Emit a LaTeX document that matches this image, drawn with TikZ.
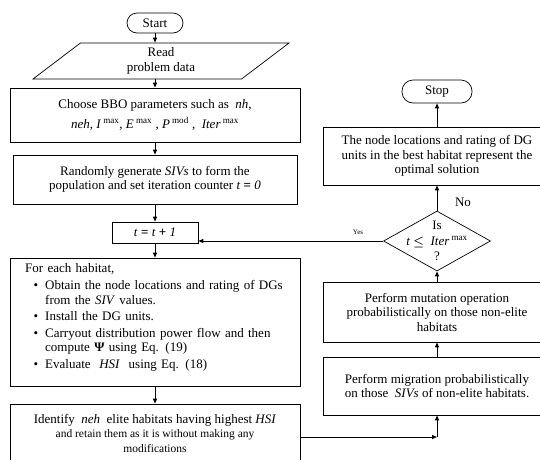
\documentclass[tikz,border=0pt]{standalone}
\usepackage{amsmath}
\usepackage{fontspec}
\setmainfont{Liberation Serif}
\usepackage{enumitem}
\usetikzlibrary{arrows.meta,shapes.geometric}

\begin{document}
\begin{tikzpicture}[x=1pt,y=-1pt,
  >={Triangle[length=5pt,width=4pt]},
  every node/.style={font=\fontsize{13}{14.5}\selectfont},
  box/.style={draw,line width=0.7pt,align=center,inner sep=0pt},
  term/.style={draw,line width=0.7pt,rounded corners=10pt,align=center,inner sep=0pt},
  flow/.style={->,line width=1pt}]
\useasboundingbox (0,0) rectangle (540,459);
\node[term,minimum width=56,minimum height=20] (start) at (155,23) {Start};
\node[draw,line width=0.7pt,trapezium,trapezium left angle=29,trapezium right angle=151,trapezium stretches body,minimum width=256,minimum height=36,align=center,inner sep=0pt] (read) at (161,61) {Read\\problem data};
\node[box,minimum width=290,minimum height=54] (bbo) at (155,115) {Choose BBO parameters such as \ \textit{nh},\\[5pt] \textit{neh}, \textit{I}\,\textsuperscript{max}, \textit{E}\,\textsuperscript{max} , \textit{P}\,\textsuperscript{mod} , \ \textit{Iter}\,\textsuperscript{max}};
\node[box,minimum width=284,minimum height=49] (rand) at (155,179.5) {Randomly generate \textit{SIVs} to form the\\population and set iteration counter \textit{t} \textbf{=} \textit{0}};
\node[box,minimum width=86,minimum height=21] (tcount) at (155,232.5) {\textit{t} \textbf{=} \textit{t} \textbf{+} \textit{1}};
\node[box,minimum width=290,minimum height=128] (each) at (155,322) {};
\node[anchor=north west,text width=272,align=left,inner sep=0pt] (eachtext) at (25,263) {\noindent For each habitat,
\begin{itemize}[leftmargin=20pt,labelsep=7pt,topsep=3pt,itemsep=2pt,parsep=0pt,partopsep=0pt]
\item Obtain the node locations and rating of DGs\newline from the \textit{SIV} values.
\item Install the DG units.
\item Carryout distribution power flow and then\newline compute \textbf{Ψ} using Eq. (19)
\item Evaluate \ \textit{HSI} \ using Eq. (18)
\end{itemize}};
\node[box,minimum width=290,minimum height=58] (ident) at (155,433) {Identify \ \textit{neh} \ elite habitats having highest \textit{HSI}\\{\fontsize{11.5}{13}\selectfont and retain them as it is without making any}\\{\fontsize{11.5}{13}\selectfont modifications}};

\node[term,minimum width=70,minimum height=23,rounded corners=11pt] (stop) at (437,91.5) {Stop};
\node[box,minimum width=228,minimum height=58] (opt) at (437,156) {The node locations and rating of DG\\units in the best habitat represent the\\optimal solution};
\node[draw,line width=0.7pt,diamond,minimum width=107,minimum height=60,inner sep=0pt] (dec) at (437,241) {};
\node[align=center,inner sep=0pt] (dectext) at (437,241) {Is\\[1pt] \textit{t} $\boldsymbol{\leq}$ \ \textit{Iter}\,\textsuperscript{max}\\[1pt] ?};
\node[box,minimum width=228,minimum height=60] (mut) at (437,312) {Perform mutation operation\\probabilistically on those non-elite\\habitats};
\node[box,minimum width=228,minimum height=58] (migr) at (437,386) {Perform migration probabilistically\\on those \ \textit{SIVs} of non-elite habitats.};
\coordinate (join) at (437,437);
\node[font=\fontsize{7}{8}\selectfont] (yes) at (358,232) {Yes};
\node (no) at (463,202) {No};

\draw[flow] (start.south) -- (start.south |- read.north);
\draw[flow] (bbo.north |- read.south) -- (bbo.north);
\draw[flow] (bbo) -- (rand);
\draw[flow] (rand) -- (tcount);
\draw[flow] (tcount) -- (each);
\draw[flow] (each) -- (ident);
\draw[flow] (ident.east |- join) -- (join);
\draw[flow] (join) -- (migr);
\draw[flow] (migr) -- (mut);
\draw[flow] (mut) -- (dec);
\draw[flow] (dec) -- (opt);
\draw[flow] (opt) -- (stop);
\draw[flow] (dec.west) -- (dec.west -| tcount.east);
\end{tikzpicture}
\end{document}
